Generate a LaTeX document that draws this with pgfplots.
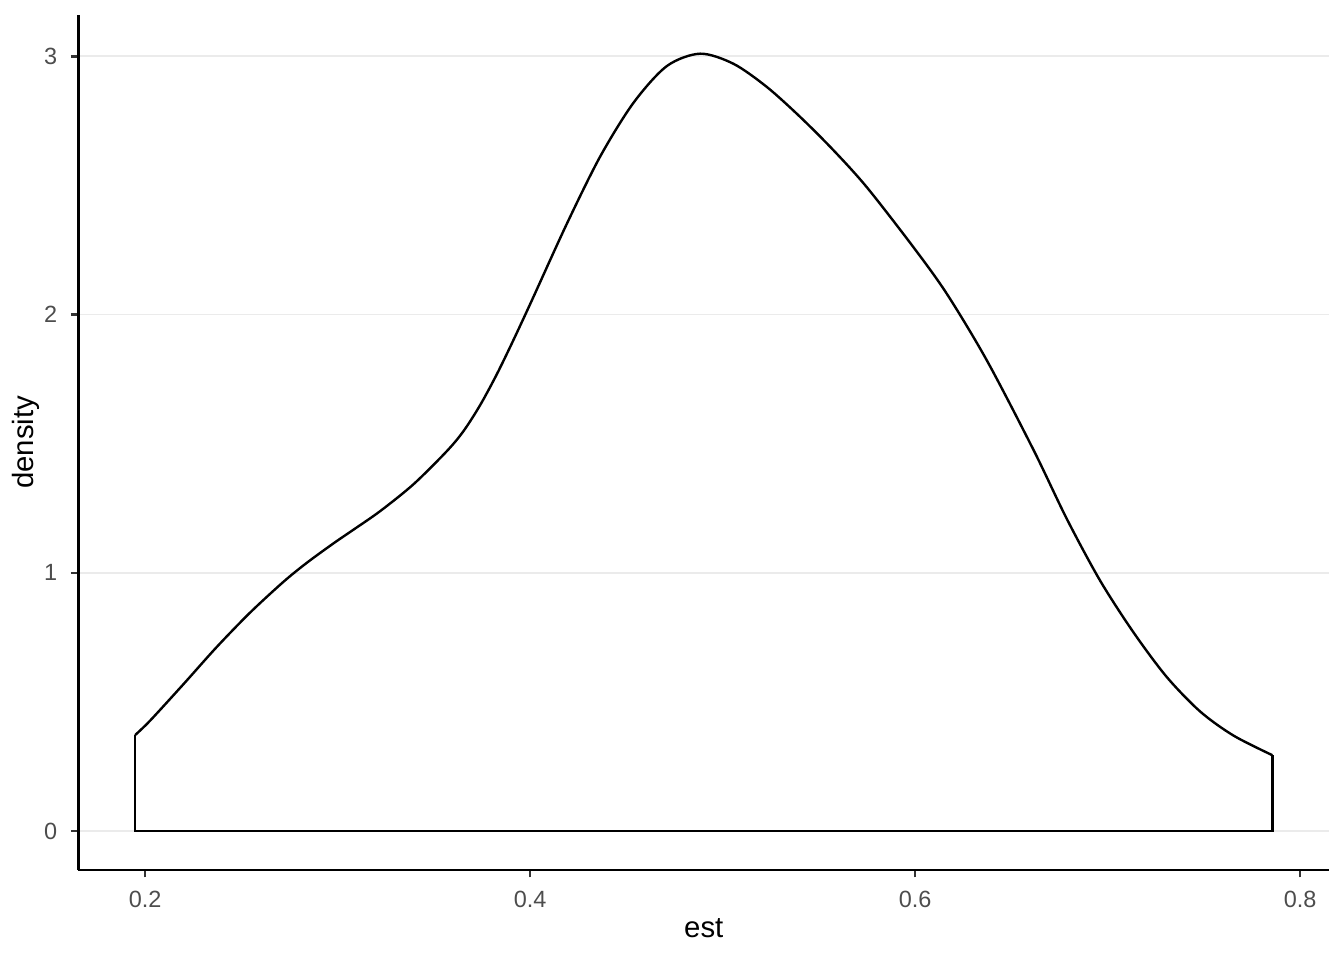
\documentclass[border=0pt]{standalone}
\usepackage{pgfplots}
\pgfplotsset{compat=1.18}
\usepackage{fontspec}
\setmainfont{Liberation Sans}
\definecolor{gridc}{HTML}{EBEBEB}
\definecolor{tickc}{HTML}{333333}
\definecolor{labc}{HTML}{4D4D4D}
\begin{document}
\begin{tikzpicture}
\path[use as bounding box] (-29.36pt,-33.75pt) rectangle (474.64pt,326.25pt);
\begin{axis}[
  at={(0,0)}, anchor=south west,
  scale only axis, width=469.1pt, height=320.7pt,
  xmin=0.16526, xmax=0.81514, ymin=-0.1505, ymax=3.1605,
  axis lines=left, axis line style={-, line width=1pt, black},
  xtick={0.2,0.4,0.6,0.8}, ytick={0,1,2,3},
  xticklabels={0.2,0.4,0.6,0.8}, yticklabels={0,1,2,3},
  tick align=outside, major tick length=2.75pt,
  tick style={line width=1pt, tickc},
  ymajorgrids, xmajorgrids=false,
  grid style={line width=0.6pt, gridc},
  /pgf/number format/assume math mode=true,
  xticklabel style={font=\fontsize{8.8}{10}\selectfont, text=labc, anchor=north, inner sep=0pt, yshift=-4.95pt},
  yticklabel style={font=\fontsize{8.8}{10}\selectfont, text=labc, anchor=east, inner sep=0pt, xshift=-4.95pt},
  xlabel={est}, ylabel={density},
  xlabel style={font=\fontsize{11}{13}\selectfont, at={(axis description cs:0.5,0)}, anchor=base, yshift=-25.2pt, inner sep=0pt},
  ylabel style={font=\fontsize{11}{13}\selectfont, at={(axis description cs:0,0.5)}, anchor=base, yshift=16.9pt, inner sep=0pt},
  clip=false,
]
\addplot[black, line width=0.9pt, smooth, tension=0.5] coordinates {
(0.1948,0.372) (0.2026,0.428) (0.2199,0.569) (0.2372,0.713) (0.2545,0.846)
(0.2718,0.965) (0.2840,1.039) (0.2980,1.115) (0.3082,1.167) (0.3221,1.239)
(0.3394,1.343) (0.3567,1.471) (0.3654,1.549) (0.3740,1.649) (0.3827,1.769)
(0.3913,1.901) (0.4009,2.055) (0.4191,2.352) (0.4364,2.612) (0.4537,2.820)
(0.4710,2.962) (0.4883,3.010) (0.5056,2.971) (0.5230,2.881) (0.5403,2.765)
(0.5576,2.636) (0.5749,2.493) (0.5991,2.261) (0.6165,2.080) (0.6373,1.822)
(0.6615,1.476) (0.6788,1.209) (0.6961,0.970) (0.7134,0.770) (0.7307,0.597)
(0.7481,0.463) (0.7654,0.370) (0.7856,0.294)
};
\addplot[black, line width=0.9pt, sharp plot] coordinates {
(0.1948,0.372) (0.1948,0) (0.7856,0) (0.7856,0.294)
};
\end{axis}
\end{tikzpicture}
\end{document}
